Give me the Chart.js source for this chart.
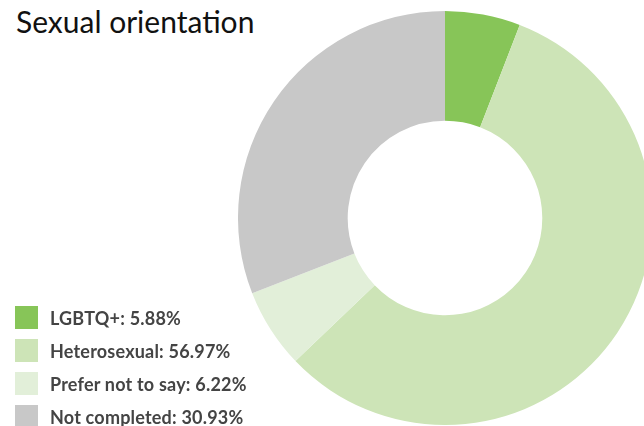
<!DOCTYPE html>
<html>
<head>
<meta charset="utf-8">
<script src="https://cdn.jsdelivr.net/npm/chart.js@4"></script>
<style>
  html, body { margin: 0; padding: 0; background: #fff; overflow: hidden; }
  body { width: 644px; height: 426px; position: relative; font-family: Lato, "Open Sans", sans-serif; }
  h1 { position: absolute; left: 16px; top: 3px; margin: 0; font-size: 30px; font-weight: 400; color: #111; }
  #wrap { position: absolute; left: 238px; top: 11px; width: 414px; height: 414px; }
  #legend { position: absolute; left: 15px; top: 306px; list-style: none; margin: 0; padding: 0; }
  #legend li { display: flex; align-items: center; height: 23px; margin-bottom: 10px; font-size: 18px; font-weight: 700; color: #444; letter-spacing: 0.2px; }
  #legend span.box { width: 23px; height: 23px; margin-right: 12px; display: inline-block; }
</style>
</head>
<body>
<h1>Sexual orientation</h1>
<div id="wrap"><canvas id="chart"></canvas></div>
<ul id="legend"></ul>
<script>
const labels = ["LGBTQ+", "Heterosexual", "Prefer not to say", "Not completed"]
const values = [5.88, 56.97, 6.22, 30.93]
const colors = ["#87c558", "#cde4b7", "#e2efd9", "#c8c8c8"]

const ctx = document.getElementById("chart").getContext("2d")

new Chart(ctx, {
  type: "doughnut",
  data: {
    labels: labels,
    datasets: [{
      data: values,
      backgroundColor: colors,
      borderWidth: 0
    }]
  },
  options: {
    responsive: true,
    maintainAspectRatio: false,
    animation: false,
    cutout: "47%",
    plugins: {
      legend: { display: false },
      tooltip: { enabled: false }
    }
  }
})

// html legend from the same arrays
const legend = document.getElementById("legend")
labels.forEach((l, i) => {
  const li = document.createElement("li")
  li.innerHTML = '<span class="box" style="background:' + colors[i] + '"></span>' + l + ": " + values[i].toFixed(2) + "%"
  legend.appendChild(li)
})
</script>
</body>
</html>
